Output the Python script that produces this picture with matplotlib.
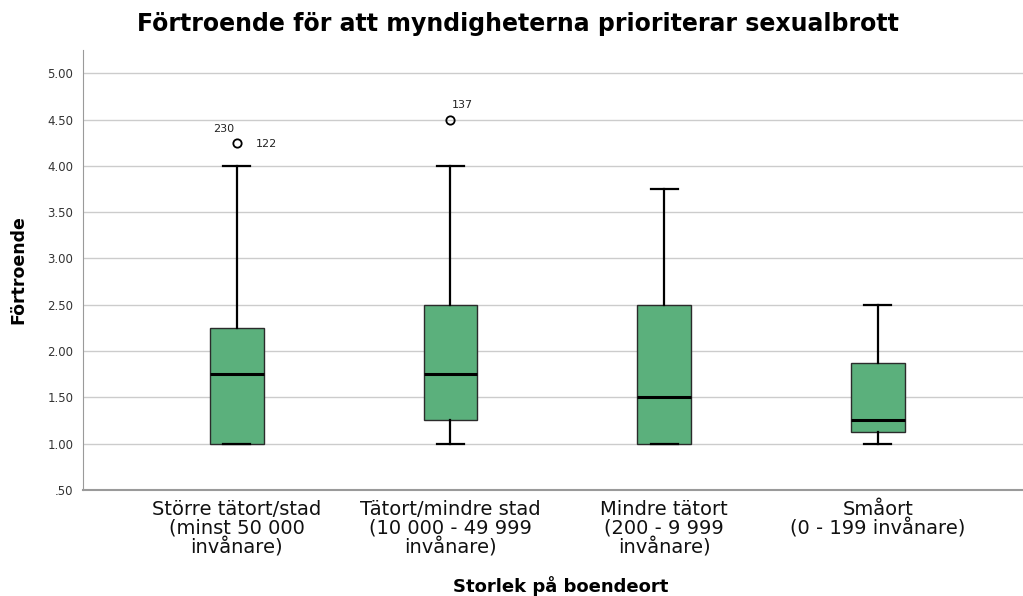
import matplotlib
matplotlib.use("Agg")
import matplotlib.pyplot as plt

# data
kategorier = ["Större tätort/stad\n(minst 50 000\ninvånare)",
              "Tätort/mindre stad\n(10 000 - 49 999\ninvånare)",
              "Mindre tätort\n(200 - 9 999\ninvånare)",
              "Småort\n(0 - 199 invånare)"]
whislo = [1.00, 1.00, 1.00, 1.00]
q1 = [1.00, 1.25, 1.00, 1.125]
median = [1.75, 1.75, 1.50, 1.25]
q3 = [2.25, 2.50, 2.50, 1.875]
whishi = [4.00, 4.00, 3.75, 2.50]
outliers = [[4.25], [4.50], [], []]
outlier_labels = [["230", "122"], ["137"], [], []]
yticks = [0.5, 1.0, 1.5, 2.0, 2.5, 3.0, 3.5, 4.0, 4.5, 5.0]

stats = []
for i in range(len(kategorier)):
    stats.append({"whislo": whislo[i], "q1": q1[i], "med": median[i], "q3": q3[i],
                  "whishi": whishi[i], "fliers": outliers[i]})

fig = plt.figure(figsize=(10.23, 5.96), dpi=100)
ax = fig.add_axes([0.0811, 0.178, 0.9189, 0.738])

pos = list(range(len(kategorier)))
ax.bxp(stats, positions=pos, widths=0.252, patch_artist=True,
       boxprops=dict(facecolor="#5bb07c", edgecolor="#2b2b2b", linewidth=1.0),
       medianprops=dict(color="black", linewidth=2.2),
       whiskerprops=dict(color="black", linewidth=1.6),
       capprops=dict(color="black", linewidth=1.6),
       capwidths=0.126,
       flierprops=dict(marker="o", markersize=6, markerfacecolor="none",
                       markeredgecolor="black", markeredgewidth=1.3),
       zorder=3)

# etiketter for extremvarden
ax.annotate(outlier_labels[0][0], (pos[0], outliers[0][0]), xytext=(-17, 8),
            textcoords="offset points", fontsize=8, color="#222222")
ax.annotate(outlier_labels[0][1], (pos[0], outliers[0][0]), xytext=(14, -3),
            textcoords="offset points", fontsize=8, color="#222222")
ax.annotate(outlier_labels[1][0], (pos[1], outliers[1][0]), xytext=(1, 8),
            textcoords="offset points", fontsize=8, color="#222222")

ax.set_xlim(-0.72, 3.68)
ax.set_ylim(0.5, 5.25)
ax.set_yticks(yticks)
ax.set_yticklabels([("%.2f" % v).lstrip("0") if v < 1 else "%.2f" % v for v in yticks],
                   fontsize=8.5, color="#333333")
ax.set_xticks(pos)
ax.set_xticklabels(kategorier, fontsize=14, color="#111111", linespacing=0.98)
ax.tick_params(axis="x", length=0, pad=7)
ax.tick_params(axis="y", length=0, pad=7)
ax.yaxis.grid(True, color="#cccccc", linewidth=1.0, zorder=0)
ax.set_axisbelow(True)
for s in ["top", "right"]:
    ax.spines[s].set_visible(False)
ax.spines["left"].set_color("#9a9a9a")
ax.spines["bottom"].set_color("#9a9a9a")
ax.spines["bottom"].set_linewidth(1.5)

ax.set_ylabel("Förtroende", fontsize=12.5, fontweight="bold", labelpad=14)
fig.text(0.548, 0.006, "Storlek på boendeort", fontsize=13, fontweight="bold",
         ha="center")
fig.text(0.506, 0.948, "Förtroende för att myndigheterna prioriterar sexualbrott",
         fontsize=17, fontweight="bold", ha="center")

fig.savefig("out.png", dpi=100)
